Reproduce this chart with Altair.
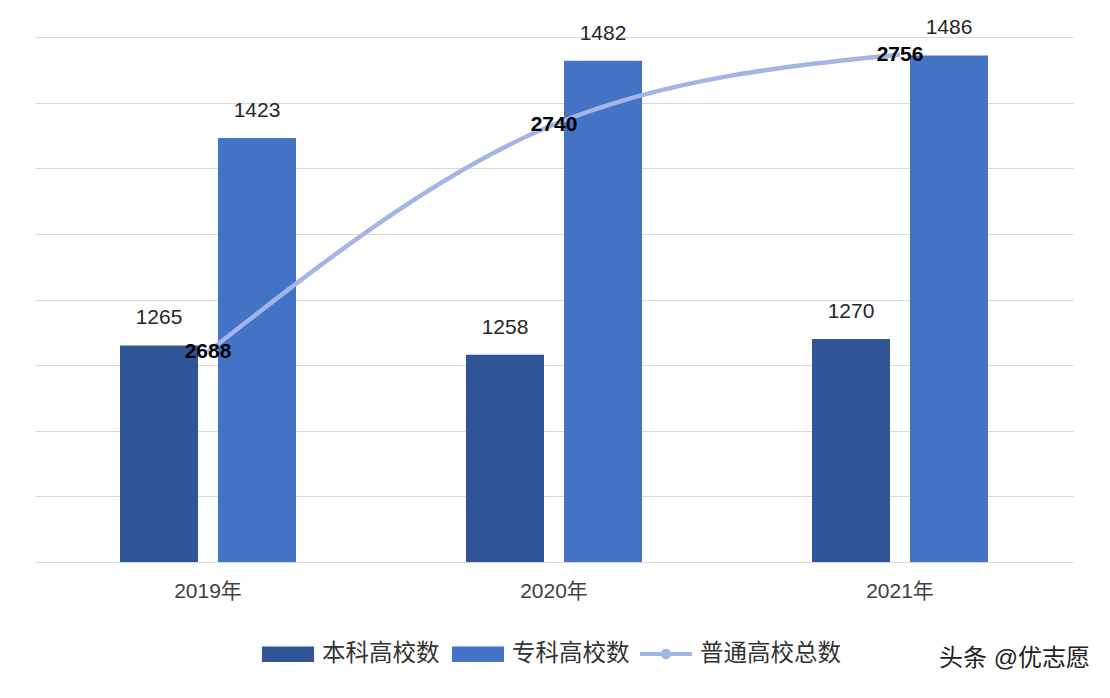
import altair as alt
import pandas as pd

years = ["2019年", "2020年", "2021年"]
benke = [1265, 1258, 1270]
zhuanke = [1423, 1482, 1486]
total = [2688, 2740, 2756]
bar_series = ["本科高校数", "专科高校数"]
line_series = "普通高校总数"
bar_colors = ["#2F5597", "#4472C4"]
line_color = "#A3B5E6"
credit = "头条 @优志愿"

bar_df = pd.DataFrame({
    "year": years * 2,
    "series": [bar_series[0]] * 3 + [bar_series[1]] * 3,
    "value": benke + zhuanke,
})
line_df = pd.DataFrame({"year": years, "series": [line_series] * 3, "value": total})

FONT = "Liberation Sans, Noto Sans CJK SC, sans-serif"

x = alt.X(
    "year:N", sort=years, title=None,
    scale=alt.Scale(paddingInner=0, paddingOuter=0),
    axis=alt.Axis(domain=False, ticks=False, labelFontSize=21, labelColor="#404040",
                  labelPadding=18, labelFont=FONT, labelAngle=0, grid=False),
)
xoff = alt.XOffset("series:N", sort=bar_series,
                   scale=alt.Scale(domain=bar_series, paddingInner=0.204, paddingOuter=0.867))
bar_scale = alt.Scale(domain=[1100, 1500], nice=False, zero=False)
ybar = alt.Y("value:Q", title=None, scale=bar_scale,
             axis=alt.Axis(values=list(range(1100, 1501, 50)), labels=False, ticks=False,
                           domain=False, grid=True, gridColor="#D9D9D9", gridWidth=1))

rect_path = "M-1,-0.3H1V0.3H-1Z"
line_path = ("M-1,-0.08H-0.183A0.2,0.2 0 0,1 0.183,-0.08H1V0.08H0.183"
             "A0.2,0.2 0 0,1 -0.183,0.08H-1Z")

bars = alt.Chart(bar_df).mark_bar().encode(
    x=x, xOffset=xoff, y=ybar, y2=alt.datum(1100),
    color=alt.Color("series:N", sort=bar_series,
                    scale=alt.Scale(domain=bar_series, range=bar_colors),
                    legend=alt.Legend(title=None, orient="none", direction="horizontal",
                                      legendX=227, legendY=591, symbolType=rect_path,
                                      symbolSize=2704, symbolStrokeWidth=0,
                                      labelFontSize=23.5, labelFont=FONT, labelColor="#333333",
                                      labelOffset=8, columnPadding=12)),
)
bar_text = alt.Chart(bar_df).mark_text(
    baseline="bottom", dy=-17, fontSize=21, font=FONT, color="#262626"
).encode(x=x, xOffset=xoff, y=ybar, text="value:Q")

yline = alt.Y("value:Q", scale=alt.Scale(domain=[2640, 2760], nice=False, zero=False), axis=None)
line = alt.Chart(line_df).mark_line(interpolate="monotone", strokeWidth=4.5).encode(
    x=x, y=yline,
    color=alt.Color("series:N", scale=alt.Scale(domain=[line_series], range=[line_color]),
                    legend=alt.Legend(title=None, orient="none", direction="horizontal",
                                      legendX=605, legendY=591, symbolType=line_path,
                                      symbolSize=2704, symbolFillColor=line_color,
                                      symbolStrokeWidth=0,
                                      labelFontSize=23.5, labelFont=FONT, labelColor="#333333",
                                      labelOffset=8)),
)
line_text = alt.Chart(line_df).mark_text(
    baseline="middle", fontSize=21, font=FONT, color="#000000", fontWeight="bold"
).encode(x=x, y=yline, text="value:Q")

bar_layer = alt.layer(bars, bar_text)
line_layer = alt.layer(line, line_text)

chart = alt.layer(bar_layer, line_layer).resolve_scale(
    y="independent", color="independent"
).properties(
    width=1038, height=525,
    padding={"left": 27, "top": 29, "right": 20, "bottom": 128},
    autosize=alt.AutoSizeParams(type="none"),
    title=alt.TitleParams(credit, orient="bottom", anchor="end", fontSize=24, font=FONT,
                          color="#222222", fontWeight="normal", offset=-19, dx=17),
).configure(
    background="white"
).configure_view(
    stroke="transparent", strokeWidth=0
).configure_axis(
    domain=False
)

chart.save("out.html", embed_options={"renderer": "svg", "actions": False})
